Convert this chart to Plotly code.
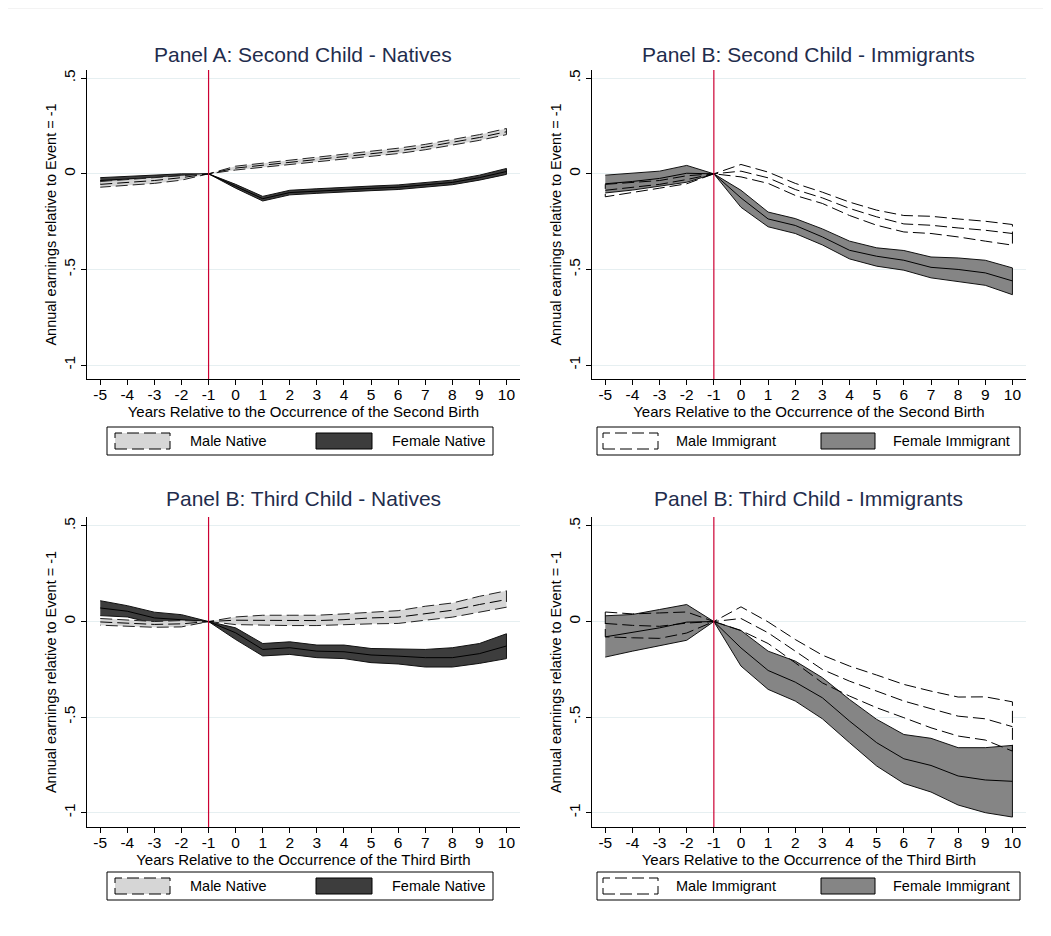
import plotly.graph_objects as go

# browser body margin offsets the figure by 8px; lay out in page pixels
OFF = 8
W, H = 1035, 920

years = list(range(-5, 11))
event_year = -1

# Panel A: Second child - natives
male_nat2_mean = [-0.055, -0.045, -0.035, -0.02, 0, 0.03, 0.045, 0.06, 0.075, 0.09, 0.105, 0.12, 0.14, 0.165, 0.19, 0.22]
male_nat2_lo = [-0.07, -0.06, -0.05, -0.033, 0, 0.02, 0.034, 0.048, 0.062, 0.077, 0.092, 0.106, 0.126, 0.15, 0.175, 0.205]
male_nat2_hi = [-0.04, -0.03, -0.02, -0.008, 0, 0.04, 0.056, 0.072, 0.088, 0.103, 0.118, 0.134, 0.154, 0.18, 0.205, 0.237]
fem_nat2_mean = [-0.035, -0.028, -0.02, -0.01, 0, -0.065, -0.13, -0.098, -0.09, -0.082, -0.076, -0.07, -0.058, -0.045, -0.02, 0.012]
fem_nat2_lo = [-0.05, -0.042, -0.033, -0.02, 0, -0.075, -0.142, -0.11, -0.102, -0.094, -0.088, -0.082, -0.07, -0.057, -0.033, -0.003]
fem_nat2_hi = [-0.02, -0.014, -0.007, 0, 0, -0.055, -0.118, -0.086, -0.078, -0.07, -0.064, -0.058, -0.046, -0.033, -0.007, 0.028]

# Panel B: Second child - immigrants
male_imm2_mean = [-0.086, -0.07, -0.055, -0.03, 0, 0.014, -0.021, -0.082, -0.126, -0.181, -0.225, -0.262, -0.269, -0.283, -0.295, -0.312]
male_imm2_hi = [-0.055, -0.045, -0.035, -0.01, 0, 0.049, 0.009, -0.05, -0.096, -0.148, -0.19, -0.218, -0.222, -0.236, -0.248, -0.265]
male_imm2_lo = [-0.12, -0.098, -0.075, -0.052, 0, -0.016, -0.05, -0.113, -0.155, -0.218, -0.269, -0.304, -0.312, -0.33, -0.352, -0.373]
fem_imm2_mean = [-0.052, -0.04, -0.024, 0.003, 0, -0.126, -0.236, -0.27, -0.33, -0.4, -0.431, -0.452, -0.489, -0.5, -0.518, -0.56]
fem_imm2_hi = [-0.007, 0.004, 0.014, 0.044, 0, -0.086, -0.2, -0.234, -0.288, -0.352, -0.387, -0.401, -0.435, -0.44, -0.452, -0.492]
fem_imm2_lo = [-0.1, -0.085, -0.065, -0.044, 0, -0.175, -0.277, -0.312, -0.372, -0.445, -0.483, -0.504, -0.544, -0.562, -0.583, -0.632]

# Panel B: Third child - natives
male_nat3_mean = [-0.002, -0.01, -0.015, -0.012, 0, 0.007, 0.007, 0.005, 0.005, 0.01, 0.019, 0.023, 0.042, 0.059, 0.089, 0.115]
male_nat3_hi = [0.016, 0.008, 0.0, 0.005, 0, 0.024, 0.033, 0.033, 0.033, 0.04, 0.05, 0.057, 0.08, 0.097, 0.132, 0.161]
male_nat3_lo = [-0.019, -0.025, -0.03, -0.028, 0, -0.016, -0.019, -0.021, -0.021, -0.017, -0.012, -0.01, 0.007, 0.023, 0.049, 0.075]
fem_nat3_mean = [0.071, 0.054, 0.019, 0.01, 0, -0.059, -0.146, -0.137, -0.155, -0.158, -0.175, -0.181, -0.189, -0.189, -0.168, -0.128]
fem_nat3_hi = [0.109, 0.083, 0.049, 0.036, 0, -0.033, -0.115, -0.106, -0.123, -0.123, -0.141, -0.142, -0.146, -0.137, -0.115, -0.064]
fem_nat3_lo = [0.031, 0.024, -0.01, -0.021, 0, -0.094, -0.18, -0.172, -0.189, -0.194, -0.215, -0.222, -0.238, -0.238, -0.219, -0.194]

# Panel B: Third child - immigrants
male_imm3_mean = [-0.01, -0.02, -0.025, -0.008, 0, 0.016, -0.059, -0.155, -0.251, -0.312, -0.364, -0.416, -0.456, -0.495, -0.509, -0.55]
male_imm3_hi = [0.05, 0.04, 0.045, 0.05, 0, 0.077, -0.002, -0.094, -0.176, -0.233, -0.28, -0.329, -0.364, -0.395, -0.394, -0.42]
male_imm3_lo = [-0.08, -0.085, -0.088, -0.06, 0, -0.047, -0.115, -0.216, -0.321, -0.39, -0.451, -0.503, -0.556, -0.599, -0.62, -0.678]
fem_imm3_mean = [-0.08, -0.056, -0.033, -0.003, 0, -0.138, -0.256, -0.317, -0.399, -0.521, -0.634, -0.718, -0.753, -0.808, -0.829, -0.836]
fem_imm3_hi = [0.03, 0.037, 0.063, 0.089, 0, -0.047, -0.155, -0.207, -0.294, -0.408, -0.512, -0.591, -0.611, -0.66, -0.66, -0.648]
fem_imm3_lo = [-0.186, -0.155, -0.125, -0.098, 0, -0.233, -0.355, -0.416, -0.509, -0.634, -0.756, -0.847, -0.892, -0.96, -1.0, -1.023]

titles = ["Panel A: Second Child - Natives", "Panel B: Second Child - Immigrants",
          "Panel B: Third Child - Natives", "Panel B: Third Child - Immigrants"]
xtitles = ["Years Relative to the Occurrence of the Second Birth", "Years Relative to the Occurrence of the Second Birth",
           "Years Relative to the Occurrence of the Third Birth", "Years Relative to the Occurrence of the Third Birth"]
ytitle = "Annual earnings relative to Event = -1"
ytickvals = [-1, -0.5, 0, 0.5]
yticktext = ["-1", "-.5", "0", ".5"]
legend_labels = [["Male Native", "Female Native"], ["Male Immigrant", "Female Immigrant"],
                 ["Male Native", "Female Native"], ["Male Immigrant", "Female Immigrant"]]

FONT = "Liberation Sans, Arial, sans-serif"
TITLE_COLOR = "#1f2d4d"
RED = "#cc0033"
GRID = "#e6eff1"
MALE_NAT_FILL = "#d6d6d6"
FEM_NAT_FILL = "#3d3d3d"
FEM_IMM_FILL = "#858585"
DASH = "12px,5px"

def px(x):
    return (x - OFF) / W

def py(y):
    return 1 - (y - OFF) / H

# page-pixel layout of plot regions
cols = [(86.7, 520.0), (591.7, 1026.0)]
rows = [(70.0, 379.0), (517.0, 827.0)]
title_gap = [15, 19]
yranges = [[-1.073, 0.543], [-1.075, 0.547]]

fig = go.Figure()

def band_fill(ax, lo, hi, fill, line_color, width, dash, show_line=True):
    xs = years + years[::-1]
    ys = hi + lo[::-1]
    fig.add_trace(go.Scatter(x=xs, y=ys, fill="toself", fillcolor=fill, mode="lines",
                             line=dict(color=line_color if show_line else "rgba(0,0,0,0)",
                                       width=width if show_line else 0, dash=dash),
                             xaxis=ax[0], yaxis=ax[1], showlegend=False, hoverinfo="skip"))

def band_outline(ax, lo, hi, color, dash):
    xs = years + years[::-1] + [years[0]]
    ys = hi + lo[::-1] + [hi[0]]
    fig.add_trace(go.Scatter(x=xs, y=ys, mode="lines", line=dict(color=color, width=1, dash=dash),
                             xaxis=ax[0], yaxis=ax[1], showlegend=False, hoverinfo="skip"))

def mean_line(ax, vals, dash):
    fig.add_trace(go.Scatter(x=years, y=vals, mode="lines", line=dict(color="black", width=1, dash=dash),
                             xaxis=ax[0], yaxis=ax[1], showlegend=False, hoverinfo="skip"))

axes = [("x", "y"), ("x2", "y2"), ("x3", "y3"), ("x4", "y4")]

# natives panels
for ax, (mm, mlo, mhi, fm, flo, fhi) in [
    (axes[0], (male_nat2_mean, male_nat2_lo, male_nat2_hi, fem_nat2_mean, fem_nat2_lo, fem_nat2_hi)),
    (axes[2], (male_nat3_mean, male_nat3_lo, male_nat3_hi, fem_nat3_mean, fem_nat3_lo, fem_nat3_hi)),
]:
    band_fill(ax, flo, fhi, FEM_NAT_FILL, "#111111", 1, "solid")
    mean_line(ax, fm, "solid")
    band_fill(ax, mlo, mhi, MALE_NAT_FILL, "#222222", 1, DASH)
    mean_line(ax, mm, DASH)

# immigrants panels
for ax, (mm, mlo, mhi, fm, flo, fhi) in [
    (axes[1], (male_imm2_mean, male_imm2_lo, male_imm2_hi, fem_imm2_mean, fem_imm2_lo, fem_imm2_hi)),
    (axes[3], (male_imm3_mean, male_imm3_lo, male_imm3_hi, fem_imm3_mean, fem_imm3_lo, fem_imm3_hi)),
]:
    band_fill(ax, mlo, mhi, "white", "white", 0, "solid", show_line=False)
    band_fill(ax, flo, fhi, FEM_IMM_FILL, "#111111", 1, "solid")
    mean_line(ax, fm, "solid")
    band_outline(ax, mlo, mhi, "black", DASH)
    mean_line(ax, mm, DASH)

layout = dict(
    width=W, height=H, margin=dict(l=0, r=0, t=0, b=0),
    paper_bgcolor="white", plot_bgcolor="white",
    font=dict(family=FONT, size=15, color="black"),
    showlegend=False,
)

shapes = []
annotations = []
for i in range(4):
    r, c = divmod(i, 2)
    x0, x1 = cols[c]
    y0, y1 = rows[r]
    sfx = "" if i == 0 else str(i + 1)
    layout["xaxis" + sfx] = dict(
        domain=[px(x0), px(x1)], anchor="y" + sfx, range=[-5.5, 10.5],
        tickvals=years, ticktext=[str(v) for v in years],
        showline=True, linecolor="black", linewidth=1, ticks="outside", ticklen=5,
        tickcolor="black", showgrid=False, zeroline=False,
        tickfont=dict(size=15.5, color="black"), ticklabelstandoff=-4,
        title=dict(text=xtitles[i], font=dict(size=15, color="black"), standoff=0),
        fixedrange=True,
    )
    layout["yaxis" + sfx] = dict(
        domain=[py(y1), py(y0)], anchor="x" + sfx, range=yranges[r],
        tickvals=ytickvals, ticktext=yticktext, tickangle=-90,
        showline=True, linecolor="black", linewidth=1, ticks="outside", ticklen=5,
        tickcolor="black", showgrid=True, gridcolor=GRID, gridwidth=1, zeroline=False,
        tickfont=dict(size=15.5, color="black"),
        title=dict(text=ytitle, font=dict(size=14.5, color="black"), standoff=0),
        fixedrange=True,
    )
    # red event line
    shapes.append(dict(type="line", xref="x" + sfx, yref="y" + sfx + " domain",
                       x0=event_year, x1=event_year, y0=0, y1=1,
                       line=dict(color=RED, width=1.2)))
    # title
    annotations.append(dict(text=titles[i], x=px((x0 + x1) / 2), y=py(y0 - title_gap[r]),
                            xref="paper", yref="paper", showarrow=False,
                            xanchor="center", yanchor="middle",
                            font=dict(size=21, color=TITLE_COLOR, family=FONT)))
    # legend box
    ly0 = 427 + r * 445
    ly1 = ly0 + 28
    if c == 0:
        bx0, bx1 = 107, 493
        s1, t1, s2, t2 = (115, 170), 190, (316, 372), 392
        m_fill, f_fill = MALE_NAT_FILL, FEM_NAT_FILL
    else:
        bx0, bx1 = 597, 1020
        s1, t1, s2, t2 = (603, 658), 676, (821, 875), 893
        m_fill, f_fill = "white", FEM_IMM_FILL
    shapes.append(dict(type="rect", xref="paper", yref="paper",
                       x0=px(bx0), x1=px(bx1), y0=py(ly1), y1=py(ly0),
                       line=dict(color="black", width=1), fillcolor="white"))
    shapes.append(dict(type="rect", xref="paper", yref="paper",
                       x0=px(s1[0]), x1=px(s1[1]), y0=py(ly1 - 6), y1=py(ly0 + 6),
                       line=dict(color="black", width=1, dash=DASH), fillcolor=m_fill))
    shapes.append(dict(type="rect", xref="paper", yref="paper",
                       x0=px(s2[0]), x1=px(s2[1]), y0=py(ly1 - 6), y1=py(ly0 + 6),
                       line=dict(color="black", width=1), fillcolor=f_fill))
    for tx, lab in [(t1, legend_labels[i][0]), (t2, legend_labels[i][1])]:
        annotations.append(dict(text=lab, x=px(tx - 2), y=py((ly0 + ly1) / 2), xref="paper", yref="paper",
                                showarrow=False, xanchor="left", yanchor="middle",
                                font=dict(size=14.5, color="black", family=FONT)))

# faint outer border line at top
shapes.append(dict(type="line", xref="paper", yref="paper", x0=0, x1=1, y0=py(8), y1=py(8),
                   line=dict(color="#e8e8e8", width=1)))

layout["shapes"] = shapes
layout["annotations"] = annotations
fig.update_layout(**layout)

fig.write_html("out.html")
